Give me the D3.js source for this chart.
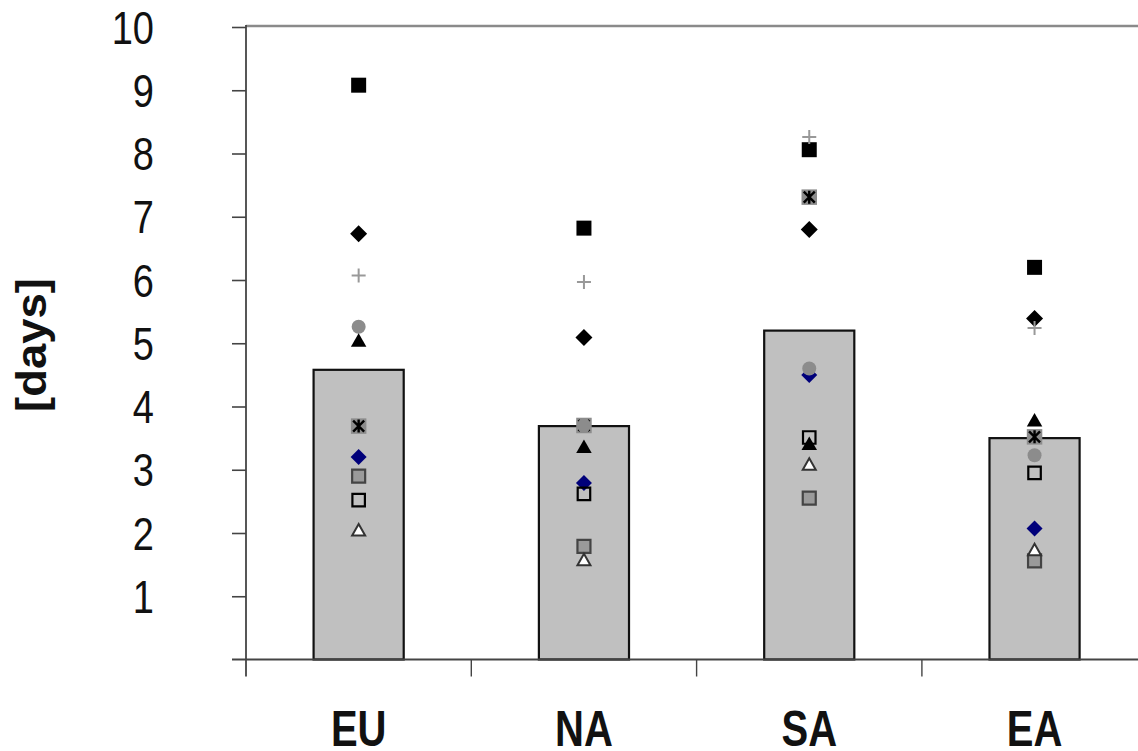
<!DOCTYPE html>
<html>
<head>
<meta charset="utf-8">
<script src="https://cdn.jsdelivr.net/npm/d3@7/dist/d3.min.js"></script>
<style>
  html, body { margin: 0; padding: 0; background: #fff; }
  svg { display: block; }
</style>
</head>
<body>
<svg width="1138" height="751"></svg>
<script>
// categories and values
var regions = ['EU', 'NA', 'SA', 'EA']
var barMean = [4.58, 3.69, 5.2, 3.5]

var blackSquare = [9.08, 6.82, 8.06, 6.2]
var navyDiamond = [3.2, 2.79, 4.5, 2.07]
var starSquare = [3.69, 3.7, 7.31, 3.52]
var openSquare = [2.52, 2.62, 3.51, 2.95]
var greySquare = [2.9, 1.79, 2.55, 1.56]
var greyCircle = [5.26, 3.7, 4.6, 3.23]
var blackTriangle = [5.05, 3.37, 3.42, 3.79]
var openTriangle = [2.05, 1.58, 3.09, 1.74]
var blackDiamond = [6.73, 5.09, 6.8, 5.39]
var greyPlus = [6.07, 5.97, 8.26, 5.24]

var yTicks = [1, 2, 3, 4, 5, 6, 7, 8, 9, 10]

var svg = d3.select('svg')
var plotLeft = 246
var plotBottom = 659.5
var plotTop = 27

var x = d3.scaleBand().domain(regions).range([plotLeft, plotLeft + 4 * 225.3])
var y = d3.scaleLinear().domain([0, 10]).range([plotBottom, plotTop])

// top frame line
svg.append('line')
  .attr('x1', plotLeft).attr('x2', 1138)
  .attr('y1', plotTop - 1).attr('y2', plotTop - 1)
  .attr('stroke', '#8a8a8a').attr('stroke-width', 2.5)

// bars
var barW = x.bandwidth() * 0.4
svg.append('g').attr('class', 'bars')
  .selectAll('rect')
  .data(regions)
  .enter().append('rect')
  .attr('x', function (d) { return x(d) + x.bandwidth() / 2 - barW / 2 })
  .attr('y', function (d, i) { return y(barMean[i]) })
  .attr('width', barW)
  .attr('height', function (d, i) { return plotBottom - y(barMean[i]) })
  .attr('fill', '#c0c0c0')
  .attr('stroke', '#111')
  .attr('stroke-width', 2.2)

// y axis
var yAxis = svg.append('g')
  .attr('transform', 'translate(' + plotLeft + ',0)')
  .call(d3.axisLeft(y).tickValues(yTicks).tickSize(14).tickFormat(d3.format('d')))
yAxis.select('.domain').remove()
yAxis.selectAll('.tick line').attr('stroke', '#444').attr('stroke-width', 1.6)
yAxis.selectAll('.tick text')
  .attr('x', 0).attr('dy', '0.35em')
  .attr('transform', 'translate(-92,0) scale(1,1.22)')
  .attr('font-family', 'Arial, "Liberation Sans", sans-serif')
  .attr('font-size', 38)
  .attr('fill', '#111')
yAxis.append('line')
  .attr('x1', 0).attr('x2', 0)
  .attr('y1', plotTop - 2).attr('y2', plotBottom + 17)
  .attr('stroke', '#444').attr('stroke-width', 1.8)

// x axis
var xAxis = svg.append('g')
  .attr('transform', 'translate(0,' + plotBottom + ')')
  .call(d3.axisBottom(x).tickSize(0))
xAxis.select('.domain').remove()
xAxis.selectAll('.tick text')
  .attr('y', 0).attr('dy', 0)
  .attr('transform', 'translate(0,86) scale(1,1.25)')
  .attr('font-family', 'Arial, "Liberation Sans", sans-serif')
  .attr('font-weight', 'bold')
  .attr('font-size', 40)
  .attr('fill', '#111')
xAxis.append('line')
  .attr('x1', plotLeft - 14).attr('x2', 1138)
  .attr('y1', 0).attr('y2', 0)
  .attr('stroke', '#444').attr('stroke-width', 1.8)
xAxis.selectAll('.sep')
  .data(regions.slice(1))
  .enter().append('line')
  .attr('class', 'sep')
  .attr('x1', function (d) { return x(d) }).attr('x2', function (d) { return x(d) })
  .attr('y1', 0).attr('y2', 17)
  .attr('stroke', '#444').attr('stroke-width', 1.4)

// y title
svg.append('text')
  .attr('transform', 'translate(46,345) rotate(-90)')
  .attr('text-anchor', 'middle')
  .attr('font-family', 'Arial, "Liberation Sans", sans-serif')
  .attr('font-weight', 'bold')
  .attr('font-size', 42)
  .attr('textLength', 134)
  .attr('lengthAdjust', 'spacingAndGlyphs')
  .attr('fill', '#111')
  .text('[days]')

// marker shapes
function sq (s) { return 'M' + (-s / 2) + ',' + (-s / 2) + 'h' + s + 'v' + s + 'h' + (-s) + 'Z' }
function dia (r) { return 'M0,' + (-r) + 'L' + r + ',0L0,' + r + 'L' + (-r) + ',0Z' }
function tri (w, h) { return 'M0,' + (-h / 2) + 'L' + (w / 2) + ',' + (h / 2) + 'L' + (-w / 2) + ',' + (h / 2) + 'Z' }

var series = [
  { values: blackSquare, draw: function (g) { g.append('path').attr('d', sq(15)).attr('fill', '#000') } },
  { values: navyDiamond, draw: function (g) { g.append('path').attr('d', dia(8)).attr('fill', '#00007a') } },
  { values: starSquare, draw: function (g) {
    g.append('path').attr('d', sq(15.5)).attr('fill', '#8c8c8c')
    g.append('path').attr('d', 'M-5.5,-5.5L5.5,5.5M5.5,-5.5L-5.5,5.5M0,-6.5V6.5')
      .attr('stroke', '#000').attr('stroke-width', 2.4).attr('fill', 'none')
  } },
  { values: openSquare, draw: function (g) {
    g.append('path').attr('d', sq(12.5)).attr('fill', 'none').attr('stroke', '#000').attr('stroke-width', 2.2)
  } },
  { values: greySquare, draw: function (g) {
    g.append('path').attr('d', sq(13)).attr('fill', '#9a9a9a').attr('stroke', '#444').attr('stroke-width', 2.2)
  } },
  { values: greyCircle, draw: function (g) { g.append('circle').attr('r', 7).attr('fill', '#8c8c8c') } },
  { values: blackTriangle, draw: function (g) { g.append('path').attr('d', tri(15.5, 13.5)).attr('fill', '#000') } },
  { values: openTriangle, draw: function (g) {
    g.append('path').attr('d', tri(13, 11.5)).attr('fill', '#fff').attr('stroke', '#333').attr('stroke-width', 2)
  } },
  { values: blackDiamond, draw: function (g) { g.append('path').attr('d', dia(8.5)).attr('fill', '#000') } },
  { values: greyPlus, draw: function (g) {
    g.append('path').attr('d', 'M-7,0H7M0,-7V7').attr('stroke', '#999').attr('stroke-width', 2).attr('fill', 'none')
  } }
]

var marks = svg.append('g').attr('class', 'marks')
series.forEach(function (s) {
  regions.forEach(function (r, i) {
    var g = marks.append('g')
      .attr('transform', 'translate(' + (x(r) + x.bandwidth() / 2) + ',' + y(s.values[i]) + ')')
    s.draw(g)
  })
})
</script>
</body>
</html>
